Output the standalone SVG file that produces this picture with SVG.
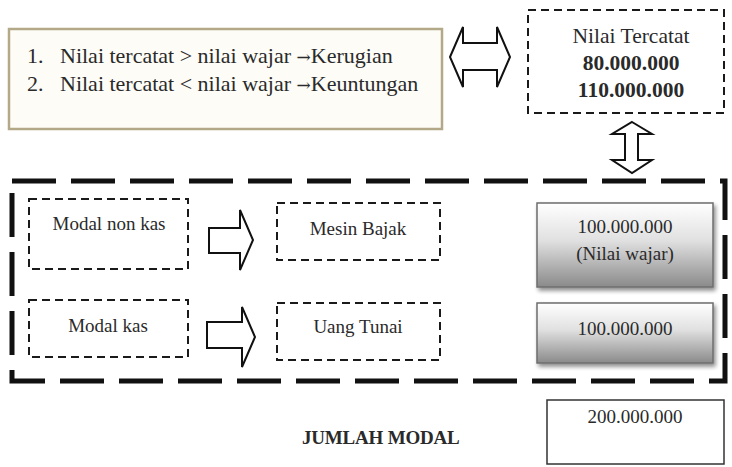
<svg xmlns="http://www.w3.org/2000/svg" width="732" height="467" viewBox="0 0 732 467">
  <defs>
    <linearGradient id="grayFill" x1="0" y1="0" x2="0" y2="1">
      <stop offset="0" stop-color="#ffffff"/>
      <stop offset="0.45" stop-color="#e0e0e0"/>
      <stop offset="1" stop-color="#8a8a8a"/>
    </linearGradient>
    <filter id="shadow" x="-10%" y="-10%" width="130%" height="130%">
      <feGaussianBlur in="SourceAlpha" stdDeviation="2"/>
      <feOffset dx="2" dy="3" result="b"/>
      <feComponentTransfer><feFuncA type="linear" slope="0.45"/></feComponentTransfer>
      <feMerge><feMergeNode/><feMergeNode in="SourceGraphic"/></feMerge>
    </filter>
  </defs>
  <style>
    text { font-family: "Liberation Serif", "Times New Roman", serif; fill: #2a2a2a; }
    .t22 { font-size: 22px; }
    .t21 { font-size: 21.5px; }
    .t19 { font-size: 19px; }
    .c { text-anchor: middle; }
    .b { font-weight: bold; }
    .arrow-glyph { font-family: "DejaVu Serif", serif; font-size: 17px; }
    .dash-thin { fill: #ffffff; stroke: #1a1a1a; stroke-width: 2; stroke-dasharray: 8 5; }
    .dash-thick { fill: none; stroke: #111111; stroke-width: 5; stroke-dasharray: 44 15; }
    .block-arrow { fill: #ffffff; stroke: #111111; stroke-width: 2; stroke-linejoin: miter; }
    .gray-box { fill: url(#grayFill); stroke: #6e6e6e; stroke-width: 1.5; filter: url(#shadow); }
  </style>
  <rect width="732" height="467" fill="#ffffff"/>

  <!-- rules box -->
  <g id="rules">
    <rect x="9" y="29" width="433" height="100" fill="#fdfcf7" stroke="#b3a888" stroke-width="2.5"/>
    <text class="t22" x="27" y="63">1.</text>
    <text class="t22" x="60" y="63">Nilai tercatat &gt; nilai wajar <tspan class="arrow-glyph">→</tspan>Kerugian</text>
    <text class="t22" x="27" y="91">2.</text>
    <text class="t22" x="60" y="91">Nilai tercatat &lt; nilai wajar <tspan class="arrow-glyph">→</tspan>Keuntungan</text>
  </g>

  <!-- recorded value box -->
  <g id="nilai-tercatat">
    <rect x="528" y="10" width="196" height="103" class="dash-thin"/>
    <text class="t21 c" x="631" y="43">Nilai Tercatat</text>
    <text class="t21 c b" x="631" y="70">80.000.000</text>
    <text class="t21 c b" x="631" y="97">110.000.000</text>
  </g>

  <!-- large dashed frame -->
  <g id="frame">
    <rect x="12" y="181" width="713" height="200" class="dash-thick"/>
  </g>

  <g id="modal-non-kas">
    <rect x="29" y="199" width="159" height="70" class="dash-thin"/>
    <text class="t19 c" x="109" y="230">Modal non kas</text>
  </g>
  <g id="modal-kas">
    <rect x="29" y="300" width="159" height="57" class="dash-thin"/>
    <text class="t19 c" x="108" y="332">Modal kas</text>
  </g>
  <g id="mesin-bajak">
    <rect x="277" y="203" width="163" height="57" class="dash-thin"/>
    <text class="t19 c" x="358" y="235">Mesin Bajak</text>
  </g>
  <g id="uang-tunai">
    <rect x="277" y="303" width="163" height="57" class="dash-thin"/>
    <text class="t19 c" x="358" y="333">Uang Tunai</text>
  </g>
  <g id="nilai-wajar">
    <rect x="537" y="203" width="176" height="84" class="gray-box"/>
    <text class="t19 c" x="625" y="233">100.000.000</text>
    <text class="t19 c" x="625" y="260">(Nilai wajar)</text>
  </g>
  <g id="kas-value">
    <rect x="537" y="303" width="176" height="60" class="gray-box"/>
    <text class="t19 c" x="625" y="335">100.000.000</text>
  </g>

  <g id="jumlah-modal">
    <text class="b" x="302" y="444" font-size="19" letter-spacing="-0.2">JUMLAH MODAL</text>
  </g>
  <g id="total">
    <rect x="547" y="400" width="177" height="64" fill="#ffffff" stroke="#333333" stroke-width="1.5"/>
    <text class="t19 c" x="635" y="423">200.000.000</text>
  </g>

  <!-- connectors: block arrows -->
  <g id="connectors">
    <!-- horizontal double arrow between rules and recorded value -->
    <path class="block-arrow" d="M450,57 L463,27 L463,43 L497,43 L497,27 L510,57 L497,87 L497,70 L463,70 L463,87 Z"/>
    <!-- vertical double arrow between recorded value and frame -->
    <path class="block-arrow" d="M632,122 L652,134 L638,134 L638,160 L652,160 L632,173 L612,160 L625,160 L625,134 L612,134 Z"/>
    <!-- modal non kas to mesin bajak -->
    <path class="block-arrow" d="M209,228 L240,228 L240,210 L253,240 L240,270 L240,253 L209,253 Z"/>
    <!-- modal kas to uang tunai -->
    <path class="block-arrow" d="M207,322 L242,322 L242,307 L255,337 L242,367 L242,348 L207,348 Z"/>
  </g>
</svg>
